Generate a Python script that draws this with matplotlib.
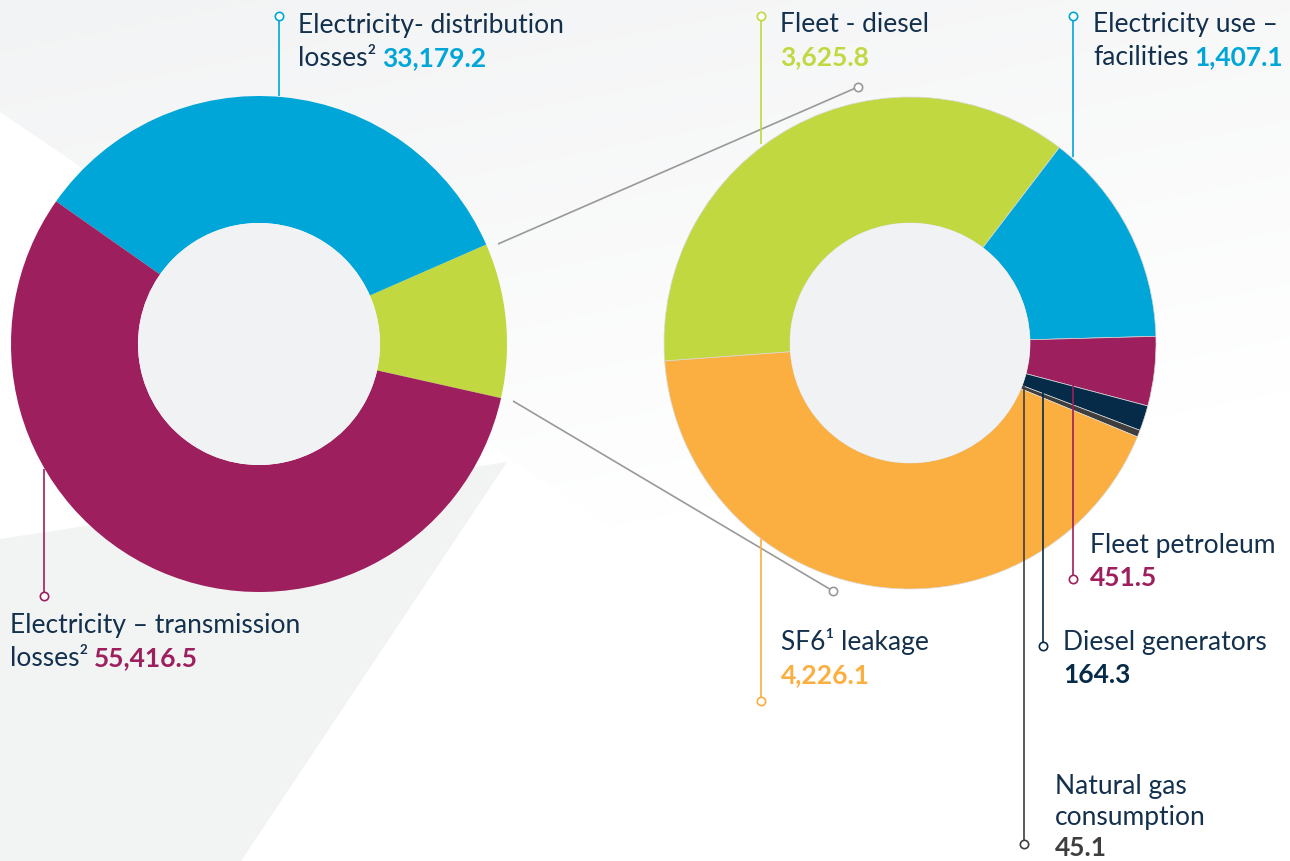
import matplotlib
matplotlib.use("Agg")
import numpy as np
import matplotlib.pyplot as plt
from matplotlib.patches import Circle, Polygon

plt.rcParams['font.family'] = ['Lato', 'DejaVu Sans']

# total emissions split (left donut)
total_labels = ["Other sources", "Electricity- distribution losses", "Electricity – transmission losses"]
total_values = [9919.9, 33179.2, 55416.5]
total_colors = ["#C2D840", "#00A6D8", "#9E1F5E"]

# breakdown of other sources (right donut), clockwise from the left
other_labels = ["Fleet - diesel", "Electricity use – facilities", "Fleet petroleum",
                "Diesel generators", "Natural gas consumption", "SF6 leakage"]
other_values = [3625.8, 1407.1, 451.5, 164.3, 45.1, 4226.1]
other_colors = ["#C2D840", "#00A6D8", "#9E1F5E", "#062B48", "#3E3E3E", "#FBAF40"]

TEXT = "#13304D"
FS = 19
LS = 33  # line pitch in px

W, H = 1290, 862
fig = plt.figure(figsize=(W / 100, H / 100), dpi=100)
fig.patch.set_facecolor("white")
ax = fig.add_axes([0, 0, 1, 1])

# background: soft grey shapes
X, Y = np.meshgrid(np.arange(W), np.arange(H))
t = np.clip((Y + 0.2 * X) / 650.0, 0, 1)
top, bot = np.array([0.949, 0.953, 0.957]), np.array([1.0, 1.0, 1.0])
grad = top[None, None, :] * (1 - t[..., None]) + bot[None, None, :] * t[..., None]
upper = Polygon([(0, 0), (W, 0), (W, 113 + 0.68 * W), (0, 113)], closed=True,
                fc="none", ec="none", transform=ax.transData)
ax.add_patch(upper)
im = ax.imshow(grad, extent=(0, W, H, 0), zorder=0, interpolation="bilinear")
im.set_clip_path(upper)
ax.add_patch(Polygon([(0, 540), (507, 463), (241, H), (0, H)],
                     closed=True, fc="#F2F3F3", ec="none", zorder=0.5))

# donuts (y axis is inverted, so angles are mirrored)
c1, R1, r1 = (259, 345), 248, 121
c2, R2, r2 = (910, 344), 246, 120
ax.pie(total_values, colors=total_colors, center=c1, radius=R1, startangle=12.6,
       counterclock=False, wedgeprops=dict(width=R1 - r1, edgecolor="none"))
ax.pie(other_values, colors=other_colors, center=c2, radius=R2, startangle=175.8,
       counterclock=True, wedgeprops=dict(width=R2 - r2, edgecolor="#d9d9d9", linewidth=0.5))
ax.add_patch(Circle(c1, r1, fc="#F1F2F4", ec="none", zorder=3))
ax.add_patch(Circle(c2, r2, fc="#F1F2F4", ec="none", zorder=3))

ax.set_xlim(0, W)
ax.set_ylim(H, 0)
ax.set_aspect("equal")
ax.axis("off")


def leader(x0, y0, x1, y1, color):
    ax.plot([x0, x1], [y0, y1], color=color, lw=1.2, zorder=4, solid_capstyle="butt")
    ax.plot([x1], [y1], "o", ms=6, mfc="white", mec=color, mew=1.2, zorder=5)


# zoom connectors
leader(498, 245, 858, 88, "#999999")
leader(513, 402, 833, 592, "#999999")

# label leaders
leader(279, 97, 279, 17, total_colors[1])
leader(44, 470, 44, 597, total_colors[2])
leader(761, 145, 761, 17, other_colors[0])
leader(1073, 158, 1073, 17, other_colors[1])
leader(761, 540, 761, 702, other_colors[5])
leader(1073, 385, 1073, 580, other_colors[2])
leader(1043, 392, 1043, 647, other_colors[3])
leader(1024, 386, 1024, 845, other_colors[4])

fig.canvas.draw()
renderer = fig.canvas.get_renderer()


def label(x, y, lines, pitch=LS):
    for i, parts in enumerate(lines):
        xx = x
        for s, color, bold in parts:
            t = ax.text(xx, y + i * pitch, s, color=color, fontsize=FS,
                        fontweight="bold" if bold else "normal",
                        ha="left", va="baseline", zorder=6)
            bb = t.get_window_extent(renderer)
            xx = ax.transData.inverted().transform((bb.x1, bb.y0))[0] + 6


def fmt(v):
    return f"{v:,.1f}"


label(298, 33, [[("Electricity- distribution", TEXT, False)],
                [("losses²", TEXT, False), (fmt(total_values[1]), total_colors[1], True)]])
label(10, 633, [[("Electricity – transmission", TEXT, False)],
                [("losses²", TEXT, False), (fmt(total_values[2]), total_colors[2], True)]])
label(780, 32, [[("Fleet - diesel", TEXT, False)],
                [(fmt(other_values[0]), other_colors[0], True)]])
label(1093, 32, [[("Electricity use –", TEXT, False)],
                 [("facilities", TEXT, False), (fmt(other_values[1]), other_colors[1], True)]])
label(1090, 553, [[("Fleet petroleum", TEXT, False)],
                  [(fmt(other_values[2]), other_colors[2], True)]])
label(781, 650, [[("SF6¹ leakage", TEXT, False)],
                 [(fmt(other_values[5]), other_colors[5], True)]])
label(1063, 650, [[("Diesel generators", TEXT, False)],
                  [(fmt(other_values[3]), other_colors[3], True)]])
label(1055, 794, [[("Natural gas", TEXT, False)],
                  [("consumption", TEXT, False)],
                  [(fmt(other_values[4]), other_colors[4], True)]], pitch=31)

fig.savefig("out.png", dpi=100)
